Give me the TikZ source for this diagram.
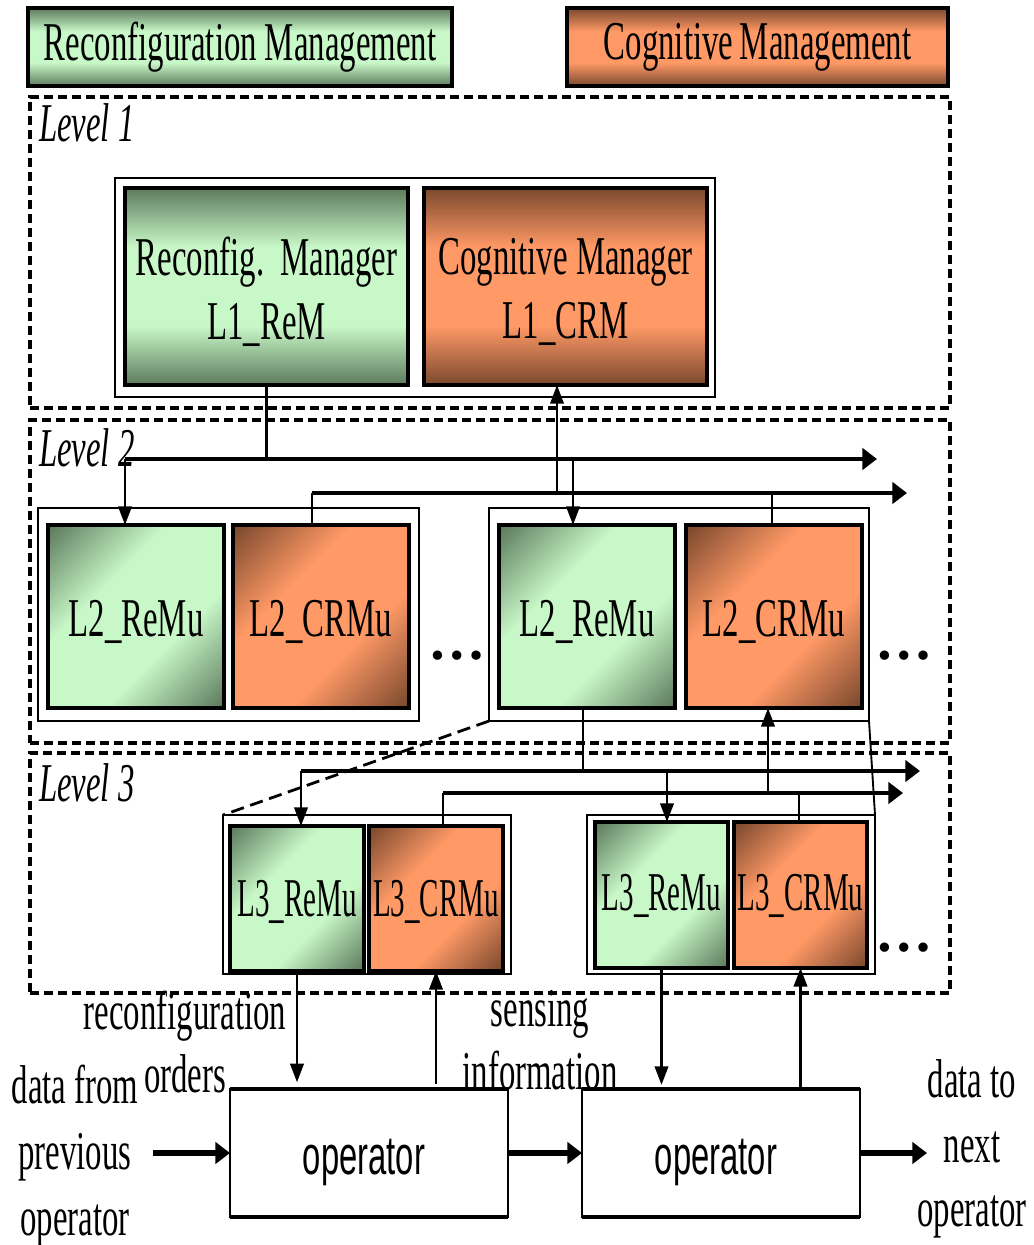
\documentclass[tikz,border=0pt]{standalone}
\usepackage{fontspec}
\setmainfont{Liberation Serif}[FakeStretch=0.6]
\newfontfamily\opfont{Liberation Sans}[FakeStretch=0.6]
\newfontfamily\lthreefont{Liberation Serif}[FakeStretch=0.53]
\newfontfamily\dotfont{Liberation Serif}
\usetikzlibrary{arrows.meta}

\definecolor{gd}{RGB}{92,122,92}
\definecolor{gl}{RGB}{200,248,200}
\definecolor{od}{RGB}{122,72,45}
\definecolor{ol}{RGB}{255,153,102}

\pgfdeclareverticalshading{gvert}{100bp}{color(0bp)=(gd); color(25bp)=(gd); color(40bp)=(gl); color(60bp)=(gl); color(75bp)=(gd); color(100bp)=(gd)}
\pgfdeclareverticalshading{overt}{100bp}{color(0bp)=(od); color(25bp)=(od); color(40bp)=(ol); color(60bp)=(ol); color(75bp)=(od); color(100bp)=(od)}
\pgfdeclareverticalshading{gdiag}{100bp}{color(0bp)=(gd); color(15bp)=(gd); color(38bp)=(gl); color(62bp)=(gl); color(85bp)=(gd); color(100bp)=(gd)}
\pgfdeclareverticalshading{odiag}{100bp}{color(0bp)=(od); color(15bp)=(od); color(38bp)=(ol); color(62bp)=(ol); color(85bp)=(od); color(100bp)=(od)}

\begin{document}
\begin{tikzpicture}[x=0.75pt,y=-0.75pt,
  every node/.style={inner sep=0pt, outer sep=0pt},
  sz/.style 2 args={minimum width=#1*0.75pt, minimum height=#2*0.75pt},
  txt/.style={font=\fontsize{41}{48}\selectfont, align=center},
  ltxt/.style={font=\lthreefont\fontsize{41}{48}\selectfont, align=center},
  legR/.style={rectangle, draw=black, line width=3.5pt, shade, shading=gvert, txt},
  legC/.style={rectangle, draw=black, line width=3.5pt, shade, shading=overt, txt},
  mgrv/.style={rectangle, draw=black, line width=2.8pt, shade, shading=gvert, txt},
  mcrv/.style={rectangle, draw=black, line width=2.8pt, shade, shading=overt, txt},
  gbox/.style={rectangle, draw=black, line width=2.6pt, shade, shading=gdiag, shading angle=45},
  obox/.style={rectangle, draw=black, line width=2.6pt, shade, shading=odiag, shading angle=45},
  outbox/.style={rectangle, draw=black, fill=white, line width=1.8pt},
  lev/.style={rectangle, draw=black, line width=2.4pt, dash pattern=on 7pt off 3.5pt},
  levlab/.style={anchor=west, font=\fontsize{41}{48}\selectfont\itshape},
  opbox/.style={rectangle, draw=black, fill=white, line width=1.8pt},
  optxt/.style={font=\opfont\fontsize{41}{48}\selectfont},
  dots/.style={font=\dotfont\bfseries\fontsize{43}{48}\selectfont},
  conn/.style={line width=2.1pt},
  tip/.style={-{Triangle[length=14pt,width=10pt]}},
  bus/.style={line width=3.4pt, -{Triangle[length=11pt,width=16pt]}},
  flow/.style={line width=4pt, -{Triangle[length=11pt,width=16pt]}}
]
\useasboundingbox (0,0) rectangle (1034,1245);

% legend
\node[legR, sz={424}{78}] (legR) at (240,47) {Reconfiguration\hspace{6pt}Management};
\node[legC, sz={381}{78}] (legC) at (757.5,47) {Cognitive\hspace{5pt}Management};

% level frames
\node[lev, sz={920}{311}] (lev1) at (490,252.5) {};
\node[lev, sz={920}{323}] (lev2) at (490,581.5) {};
\node[lev, sz={920}{240}] (lev3) at (490,873) {};
\node[levlab] (lab1) at (39,123) {Level 1};
\node[levlab] (lab2) at (39,448) {Level 2};
\node[levlab] (lab3) at (39,783) {Level 3};

% level 1
\node[outbox, sz={600}{219}] (l1out) at (415,287.5) {};
\node[mgrv, sz={283}{197}] (rem) at (266.5,286.5) {};
\node[mcrv, sz={283}{197}] (crm) at (565.5,286.5) {};
\node[txt] (t1a) at (266.5,292) {Reconfig.\ \ Manager\\L1\_ReM};
\node[txt] (t1b) at (565.5,292) {Cognitive Manager\\L1\_CRM};

% level 2
\node[outbox, sz={381}{213}] (l2outA) at (228.5,614.5) {};
\node[outbox, sz={380}{213}] (l2outB) at (679,614.5) {};
\node[gbox, sz={176}{183}] (r2a) at (136,616.5) {};
\node[obox, sz={176}{183}] (c2a) at (321,616.5) {};
\node[gbox, sz={176}{183}] (r2b) at (587,616.5) {};
\node[obox, sz={176}{183}] (c2b) at (774,616.5) {};
\node[txt] (t2a) at (136,622) {L2\_ReMu};
\node[txt] (t2b) at (321,622) {L2\_CRMu};
\node[txt] (t2c) at (587,622) {L2\_ReMu};
\node[txt] (t2d) at (774,622) {L2\_CRMu};
\node[dots] (d1) at (457,656) {…};
\node[dots] (d2) at (904,656) {…};

% level 3
\node[outbox, sz={288}{159}] (l3outA) at (367,894.5) {};
\node[outbox, sz={288}{159}] (l3outB) at (731,894.5) {};
\node[gbox, sz={134}{145}] (r3a) at (297,898.5) {};
\node[obox, sz={134}{145}] (c3a) at (436,898.5) {};
\node[gbox, sz={133}{146}] (r3b) at (661.5,895) {};
\node[obox, sz={133}{146}] (c3b) at (800.5,895) {};
\node[ltxt] (t3a) at (297,902) {L3\_ReMu};
\node[ltxt] (t3b) at (436,902) {L3\_CRMu};
\node[ltxt] (t3c) at (661.5,896) {L3\_ReMu};
\node[ltxt] (t3d) at (800.5,896) {L3\_CRMu};
\node[dots] (d3) at (904,948) {…};

% operators
\node[opbox, sz={278}{128}] (op1) at (369,1153) {};
\node[opbox, sz={278}{128}] (op2) at (721,1153) {};
\draw[line width=3.2pt] (op1.north west) -- (op1.north east);
\draw[line width=3.2pt] (op1.south west) -- (op1.south east);
\draw[line width=3.2pt] (op2.north west) -- (op2.north east);
\draw[line width=3.2pt] (op2.south west) -- (op2.south east);
\node[optxt] (o1t) at (364,1162) {operator};
\node[optxt] (o2t) at (716,1162) {operator};

% bus coordinates
\coordinate (b1s) at (125,459); \coordinate (b1e) at (877,459);
\coordinate (b2s) at (312,493); \coordinate (b2e) at (907,493);
\coordinate (b3s) at (301,771); \coordinate (b3e) at (920,771);
\coordinate (b4s) at (443,793); \coordinate (b4e) at (903,793);
\coordinate (j1) at (557,493);
\coordinate (j2) at (573,459);
\coordinate (j3) at (772,493);
\coordinate (j4) at (583,771);
\coordinate (j5) at (768,793);
\coordinate (j7) at (667,771);
\coordinate (j8) at (799,793);

% level 1 -> 2
\draw[conn] (rem.south) -- (rem.south |- b1s);
\draw[bus] (b1s) -- (b1e);
\draw[bus] (b2s) -- (b2e);
\draw[conn, tip] (b1s) -- (b1s |- r2a.north);
\draw[conn] (b2s) -- (b2s |- c2a.north);
\draw[conn, tip] (j1) -- (j1 |- crm.south);
\draw[conn, tip] (j2) -- (j2 |- r2b.north);
\draw[conn] (j3) -- (j3 |- c2b.north);

% level 2 -> 3
\draw[conn, dash pattern=on 10pt off 5pt] (l2outB.south west) -- (l3outA.north west);
\draw[line width=1.4pt] (l2outB.south east) -- (l3outB.north east);
\draw[conn] (j4 |- r2b.south) -- (j4);
\draw[bus] (b3s) -- (b3e);
\draw[bus] (b4s) -- (b4e);
\draw[conn, tip] (j5) -- (j5 |- c2b.south);
\draw[conn, tip] (b3s) -- (b3s |- r3a.north);
\draw[conn] (b4s) -- (b4s |- c3a.north);
\draw[conn, tip] (j7) -- (j7 |- r3b.north);
\draw[conn] (j8) -- (j8 |- c3b.north);

% level 3 -> operators
\draw[conn, tip, shorten >=5pt] (r3a.south) -- (r3a.south |- op1.north);
\draw[conn, tip, shorten <=4pt] (c3a.south |- op1.north) -- (c3a.south);
\draw[conn, tip, shorten >=3pt] (r3b.south) -- (r3b.south |- op2.north);
\draw[conn, tip] (c3b.south |- op2.north) -- (c3b.south);

% data flow
\coordinate (in) at (153,1153);
\coordinate (out) at (927,1153);
\draw[flow] (in) -- (in -| op1.west);
\draw[flow] (op1.east) -- (op2.west);
\draw[flow] (op2.east) -- (out);

% labels
\node[txt, font=\fontsize{41}{47}\selectfont] (ro) at (185,1042) {reconfiguration\\orders};
\node[txt, font=\fontsize{41}{47}\selectfont] (si) at (540,1040) {sensing\\information};
\node[txt, font=\fontsize{41}{49.5}\selectfont] (dfp) at (75,1156) {data from\\previous\\operator};
\node[txt, font=\fontsize{41}{48.5}\selectfont] (dtn) at (972,1149) {data to\\next\\operator};
\end{tikzpicture}
\end{document}
